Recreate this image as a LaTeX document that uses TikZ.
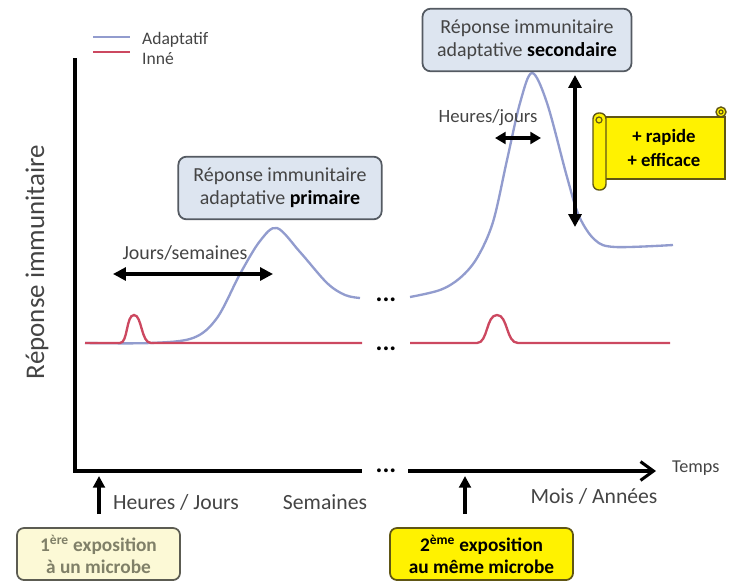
\documentclass[tikz,border=0pt]{standalone}
\usepackage{fontspec}
\setmainfont{Carlito}
\usepackage{tikz}
\usetikzlibrary{arrows.meta}
\definecolor{adaptcol}{RGB}{146,156,206}
\definecolor{innecol}{RGB}{204,72,96}
\definecolor{boxfill}{RGB}{221,229,240}
\definecolor{boxline}{RGB}{84,90,98}
\definecolor{txtgray}{RGB}{68,68,68}
\definecolor{paleyel}{RGB}{252,249,214}
\definecolor{paleline}{RGB}{92,92,82}
\definecolor{paletxt}{RGB}{128,128,104}
\definecolor{scrollline}{RGB}{96,86,20}

\begin{document}
\begin{tikzpicture}[x=0.03cm, y=-0.03cm,
	lbl/.style={text=txtgray, font=\fontsize{18}{21}\selectfont},
	bubble/.style={draw=boxline, line width=1.5pt, rounded corners=7pt, fill=boxfill, align=center, text=txtgray, minimum width=6.1cm, minimum height=1.88cm, font=\fontsize{17}{20}\selectfont},
	expo/.style={draw=paleline, line width=1.5pt, rounded corners=6pt, align=center, minimum height=1.56cm, font=\bfseries\fontsize{16.5}{18.5}\selectfont},
	axis/.style={line width=2.6pt, black},
	dbl/.style={{Triangle[length=11pt,width=11pt]}-{Triangle[length=11pt,width=11pt]}, line width=2.6pt},
	upar/.style={-{Triangle[length=10pt,width=10pt]}, line width=2.6pt},
	dots/.style={font=\bfseries\fontsize{22}{22}\selectfont, inner sep=0pt},
	scroll/.style={fill=yellow, draw=scrollline, line width=1.2pt}]
	\useasboundingbox (0,0) rectangle (734,582);
	\coordinate (ytop) at (75,58);\coordinate (orig) at (75,471);\coordinate (xbreak) at (362,471);\coordinate (xresume) at (408,471);\coordinate (xend) at (656,471);
	\draw[axis] (ytop) -- (orig) -- (xbreak);
	\draw[axis, -{Straight Barb[length=11pt,width=16pt]}] (xresume) -- (xend);
	\node[lbl, anchor=west, font=\fontsize{15.5}{18}\selectfont] (temps) at (668,468) {Temps};
	\node[lbl, rotate=90, font=\fontsize{23}{26}\selectfont] (ylabel) at (37,262) {Réponse immunitaire};
	\coordinate (la1) at (93,37);\coordinate (la2) at (130,37);\coordinate (li1) at (93,52);\coordinate (li2) at (130,52);
	\draw[adaptcol, line width=2pt] (la1) -- (la2);\draw[innecol, line width=2pt] (li1) -- (li2);
	\node[lbl, anchor=west, font=\fontsize{15}{18}\selectfont] (ladapt) at (138,40) {Adaptatif};
	\node[lbl, anchor=west, font=\fontsize{15}{18}\selectfont] (linne) at (138,59) {Inné};
	\draw[adaptcol, line width=2pt] plot[smooth, tension=0.55] coordinates {(85,343) (150,343) (193,338) (217,318) (240,274) (260,241) (277,228) (300,252) (327,283) (345,295) (360,298)};
	\draw[adaptcol, line width=2pt] plot[smooth, tension=0.55] coordinates {(410,297) (440,290) (460,278) (477,258) (493,222) (507,160) (520,103) (532,73) (547,103) (567,177) (579,216) (595,240) (615,247) (673,245)};
	\draw[innecol, line width=2pt] (85,343) -- (120,343) .. controls (128,343) and (126,315) .. (134,315) .. controls (142,315) and (141,343) .. (151,343) -- (362,343);
	\draw[innecol, line width=2pt] (410,343) -- (477,343) .. controls (488,343) and (486,315) .. (497,315) .. controls (508,315) and (506,343) .. (518,343) -- (670,343);
	\node[dots] (dotsA) at (386,300) {...};\node[dots] (dotsB) at (386,349) {...};\node[dots] (dotsC) at (386,471) {...};
	\node[bubble] (prim) at (280,188) {Réponse immunitaire\\adaptative \textbf{\color{black}primaire}};
	\node[bubble, minimum width=6.27cm] (sec) at (527,40) {Réponse immunitaire\\adaptative \textbf{\color{black}secondaire}};
	\coordinate (js1) at (113,274);\coordinate (js2) at (273,274);
	\draw[dbl] (js1) -- (js2);
	\node[lbl, font=\fontsize{17}{20}\selectfont] (jours) at (185,253) {Jours/semaines};
	\coordinate (hj1) at (495,138);\coordinate (hj2) at (541,138);
	\draw[dbl, {Triangle[length=9pt,width=10pt]}-{Triangle[length=9pt,width=10pt]}] (hj1) -- (hj2);
	\node[lbl, font=\fontsize{16}{19}\selectfont] (heures) at (488,118) {Heures/jours};
	\coordinate (amp1) at (575,75);\coordinate (amp2) at (575,227);
	\draw[dbl, line width=3pt] (amp1) -- (amp2);
	\filldraw[scroll] (600,117) rectangle (725,179);
	\filldraw[scroll] (721,112) circle (5);
	\draw[scrollline, line width=1pt] (721,112) circle (2);
	\filldraw[scroll, rounded corners=5pt] (593,113) rectangle (606,190);
	\draw[scrollline, line width=1pt] (599,120) circle (3);
	\node[font=\bfseries\fontsize{16}{20}\selectfont, align=center] (gain) at (664,148) {+ rapide\\+ efficace};
	\node[lbl, font=\fontsize{18.5}{21}\selectfont] (heurebas) at (176,502) {Heures / Jours};
	\node[lbl, font=\fontsize{18.5}{21}\selectfont] (semaines) at (325,502) {Semaines};
	\node[lbl, font=\fontsize{18.5}{21}\selectfont] (moisans) at (594,496) {Mois / Années};
	\node[expo, fill=paleyel, text=paletxt, minimum width=4.89cm] (expo1) at (98.5,554) {1\textsuperscript{ère} exposition\\à un microbe};
	\node[expo, fill=yellow, draw=scrollline, minimum width=5.49cm] (expo2) at (481.5,554) {2\textsuperscript{ème} exposition\\au même microbe};
	\coordinate (up1a) at (99,514);\coordinate (up1b) at (99,476);\coordinate (up2a) at (465,514);\coordinate (up2b) at (465,476);
	\draw[upar] (up1a) -- (up1b);\draw[upar] (up2a) -- (up2b);
\end{tikzpicture}
\end{document}
